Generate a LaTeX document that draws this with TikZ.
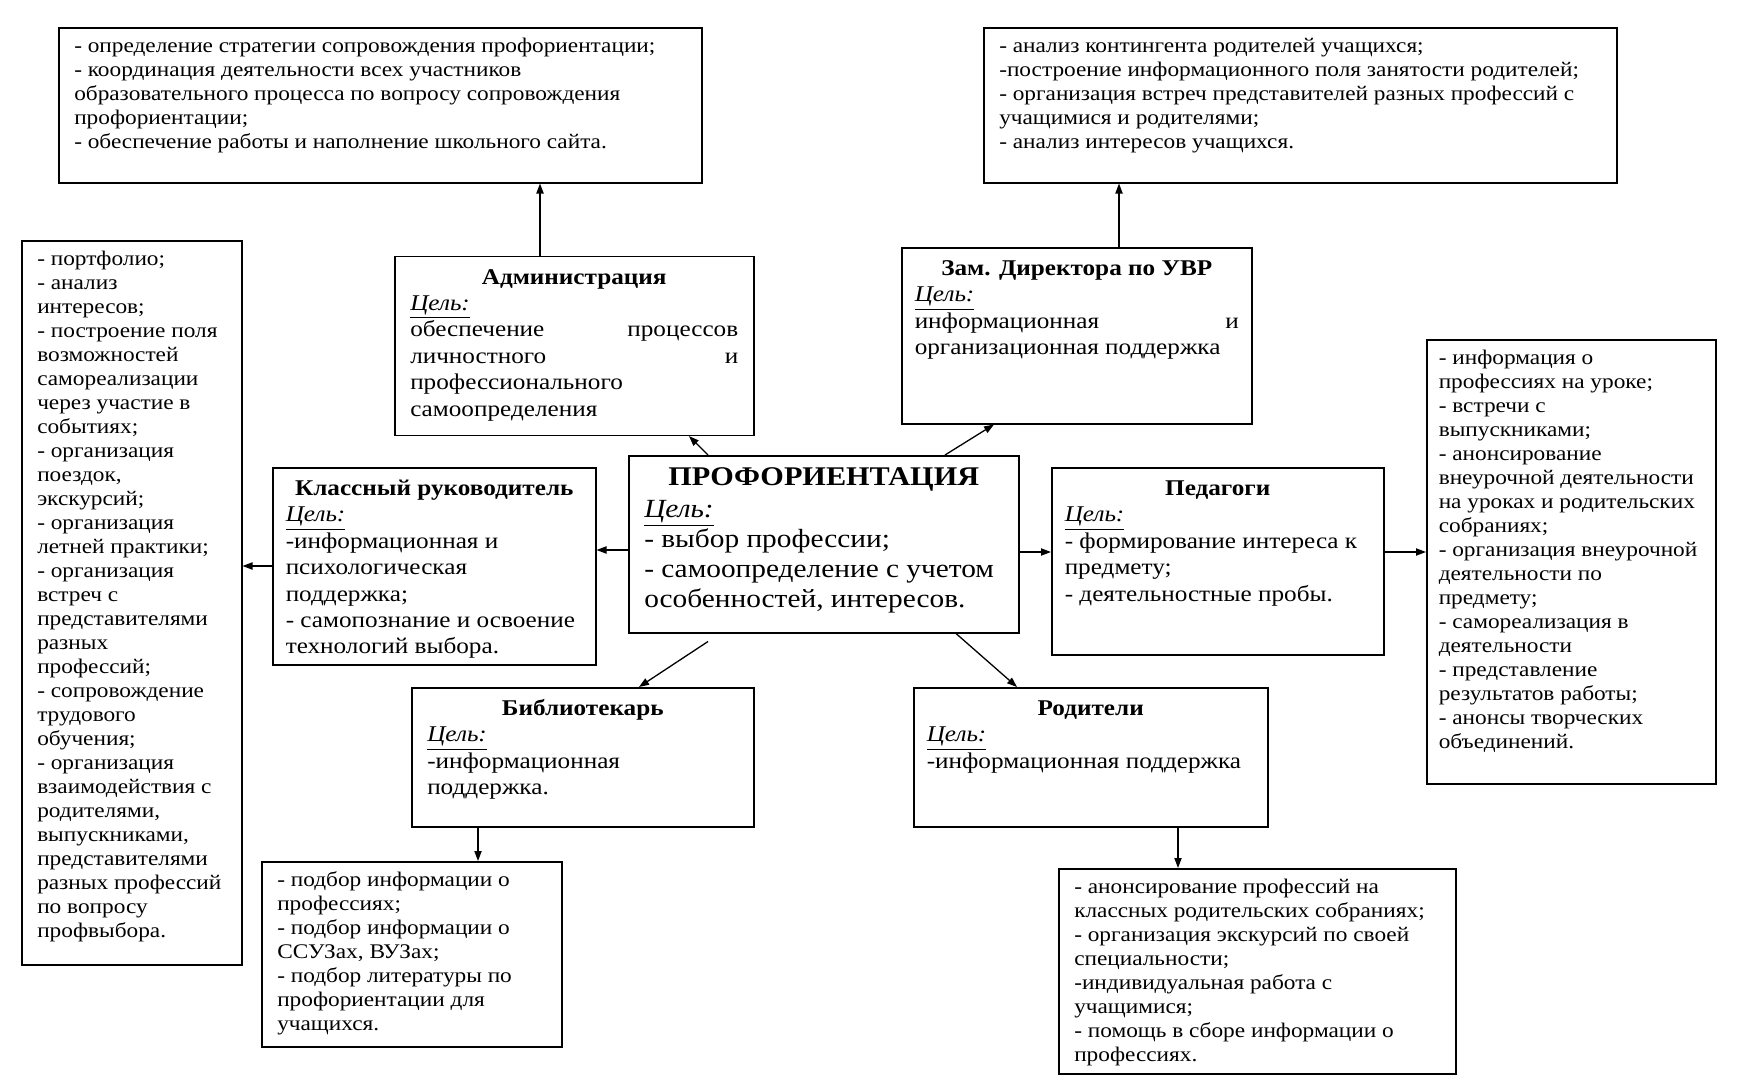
\documentclass[tikz,border=0pt]{standalone}
\usepackage{fontspec}
\setmainfont{Liberation Serif}[FakeStretch=1.12]
\usetikzlibrary{arrows.meta,calc}
\newlength\topgap
\newcommand\tsk{\fontsize{10.4}{12}\selectfont\setlength\topgap{3.8pt}}
\newcommand\rol{\fontsize{11.25}{13.2}\selectfont\setlength\topgap{4.6pt}}
\newcommand\cel{\underline{\textit{Цель:}}}
\newcommand\bt[3]{\begin{minipage}[c][#2][t]{#1}\raggedright\vspace*{\topgap}\strut #3\end{minipage}}
\newcommand\ttl[1]{{\centering\textbf{#1}\par}}
\begin{document}
\begin{tikzpicture}[x=0.5pt,y=-0.5pt,
  bx/.style={draw, line width=0.75pt, inner xsep=7.75pt, inner ysep=0pt, anchor=north west},
  tb/.style={bx, font=\tsk},
  rb/.style={bx, font=\rol},
  arr/.style={-{Triangle[length=5pt,width=3.6pt]}, line width=0.65pt}]
\useasboundingbox (0,0) rectangle (1746,1081);

\node[tb] (tl) at (58,27.5) {\bt{306pt}{77.25pt}{- определение стратегии сопровождения профориентации;\\
- координация деятельности всех участников\\
образовательного процесса по вопросу сопровождения\\
профориентации;\\
- обеспечение работы и наполнение школьного сайта.}};

\node[tb] (tr) at (983,27.5) {\bt{301pt}{77.25pt}{- анализ контингента родителей учащихся;\\
-построение информационного поля занятости родителей;\\
- организация встреч представителей разных профессий с\\
учащимися и родителями;\\
- анализ интересов учащихся.}};

\node[rb] (adm) at (394,255.6) {\bt{164pt}{89.5pt}{\ttl{Администрация}\cel\\
обеспечение\hfill процессов\\
личностного\hfill и\\
профессионального\\
самоопределения}};

\node[rb, inner xsep=6.5pt] (zam) at (901,247) {\bt{162pt}{88pt}{\ttl{Зам. Директора по УВР}\cel\\
информационная\hfill и\\
организационная поддержка}};

\node[tb] (left) at (21,240.4) {\bt{94.5pt}{362pt}{- портфолио;\\
- анализ\\
интересов;\\
- построение поля\\
возможностей\\
самореализации\\
через участие в\\
событиях;\\
- организация\\
поездок,\\
экскурсий;\\
- организация\\
летней практики;\\
- организация\\
встреч с\\
представителями\\
разных\\
профессий;\\
- сопровождение\\
трудового\\
обучения;\\
- организация\\
взаимодействия с\\
родителями,\\
выпускниками,\\
представителями\\
разных профессий\\
по вопросу\\
профвыбора.}};

\node[rb, inner xsep=6.5pt] (kl) at (272,467) {\bt{148.5pt}{98.5pt}{\ttl{Классный руководитель}\cel\\
-информационная и\\
психологическая\\
поддержка;\\
- самопознание и освоение\\
технологий выбора.}};

\node[bx, inner xsep=6.5pt] (prof) at (628,455) {\begin{minipage}[c][88.5pt][t]{182pt}\raggedright\vspace*{4.5pt}%
{\centering\fontsize{13.5}{15}\selectfont\strut\textbf{ПРОФОРИЕНТАЦИЯ}\par}\vspace{1pt}%
\fontsize{13.1}{15}\selectfont\hspace*{1.25pt}\cel\\
\hspace*{1.25pt}- выбор профессии;\\
\hspace*{1.25pt}- самоопределение с учетом\\
\hspace*{1.25pt}особенностей, интересов.\end{minipage}};

\node[rb, inner xsep=6.5pt] (ped) at (1051,467) {\bt{153pt}{93.5pt}{\ttl{Педагоги}\cel\\
- формирование интереса к\\
предмету;\\
- деятельностные пробы.}};

\node[tb, inner xsep=6pt] (rl) at (1426,339) {\bt{132.5pt}{222pt}{- информация о\\
профессиях на уроке;\\
- встречи с\\
выпускниками;\\
- анонсирование\\
внеурочной деятельности\\
на уроках и родительских\\
собраниях;\\
- организация внеурочной\\
деятельности по\\
предмету;\\
- самореализация в\\
деятельности\\
- представление\\
результатов работы;\\
- анонсы творческих\\
объединений.}};

\node[rb] (bib) at (411,687) {\bt{155.5pt}{69.5pt}{\ttl{Библиотекарь}\cel\\
-информационная\\
поддержка.}};

\node[rb, inner xsep=6.5pt] (rod) at (913,687) {\bt{164pt}{69.5pt}{\ttl{Родители}\cel\\
-информационная поддержка}};

\node[tb] (bl) at (261,861) {\bt{134.5pt}{92.5pt}{- подбор информации о\\
профессиях;\\
- подбор информации о\\
ССУЗах, ВУЗах;\\
- подбор литературы по\\
профориентации для\\
учащихся.}};

\node[tb] (br) at (1058,868) {\bt{183pt}{102.5pt}{- анонсирование профессий на\\
классных родительских собраниях;\\
- организация экскурсий по своей\\
специальности;\\
-индивидуальная работа с\\
учащимися;\\
- помощь в сборе информации о\\
профессиях.}};

% connectors
\draw[arr] ($(adm.north west)+(146,0)$) coordinate (a1) -- (a1 |- tl.south);
\draw[arr] ($(zam.north west)+(218,0)$) coordinate (a2) -- (a2 |- tr.south);
\draw[arr] ($(prof.north west)+(80,0)$) -- ($(adm.south west)+(295,0)$);
\draw[arr] ($(prof.north west)+(317,0)$) -- ($(zam.south west)+(93,0)$);
\draw[arr] ($(prof.north west)+(0,95)$) coordinate (a3) -- (a3 -| kl.east);
\draw[arr] ($(kl.north west)+(0,99)$) coordinate (a4) -- (a4 -| left.east);
\draw[arr] ($(prof.north east)+(0,97)$) coordinate (a5) -- (a5 -| ped.west);
\draw[arr] ($(ped.north east)+(0,85)$) coordinate (a6) -- (a6 -| rl.west);
\draw[arr] ($(prof.south west)+(80,8)$) -- ($(bib.north west)+(228,0)$);
\draw[arr] ($(prof.south west)+(328,0)$) -- ($(rod.north west)+(104,0)$);
\draw[arr] ($(bib.south west)+(67,0)$) coordinate (a7) -- (a7 |- bl.north);
\draw[arr] ($(rod.south west)+(265,0)$) coordinate (a8) -- (a8 |- br.north);
\end{tikzpicture}
\end{document}
